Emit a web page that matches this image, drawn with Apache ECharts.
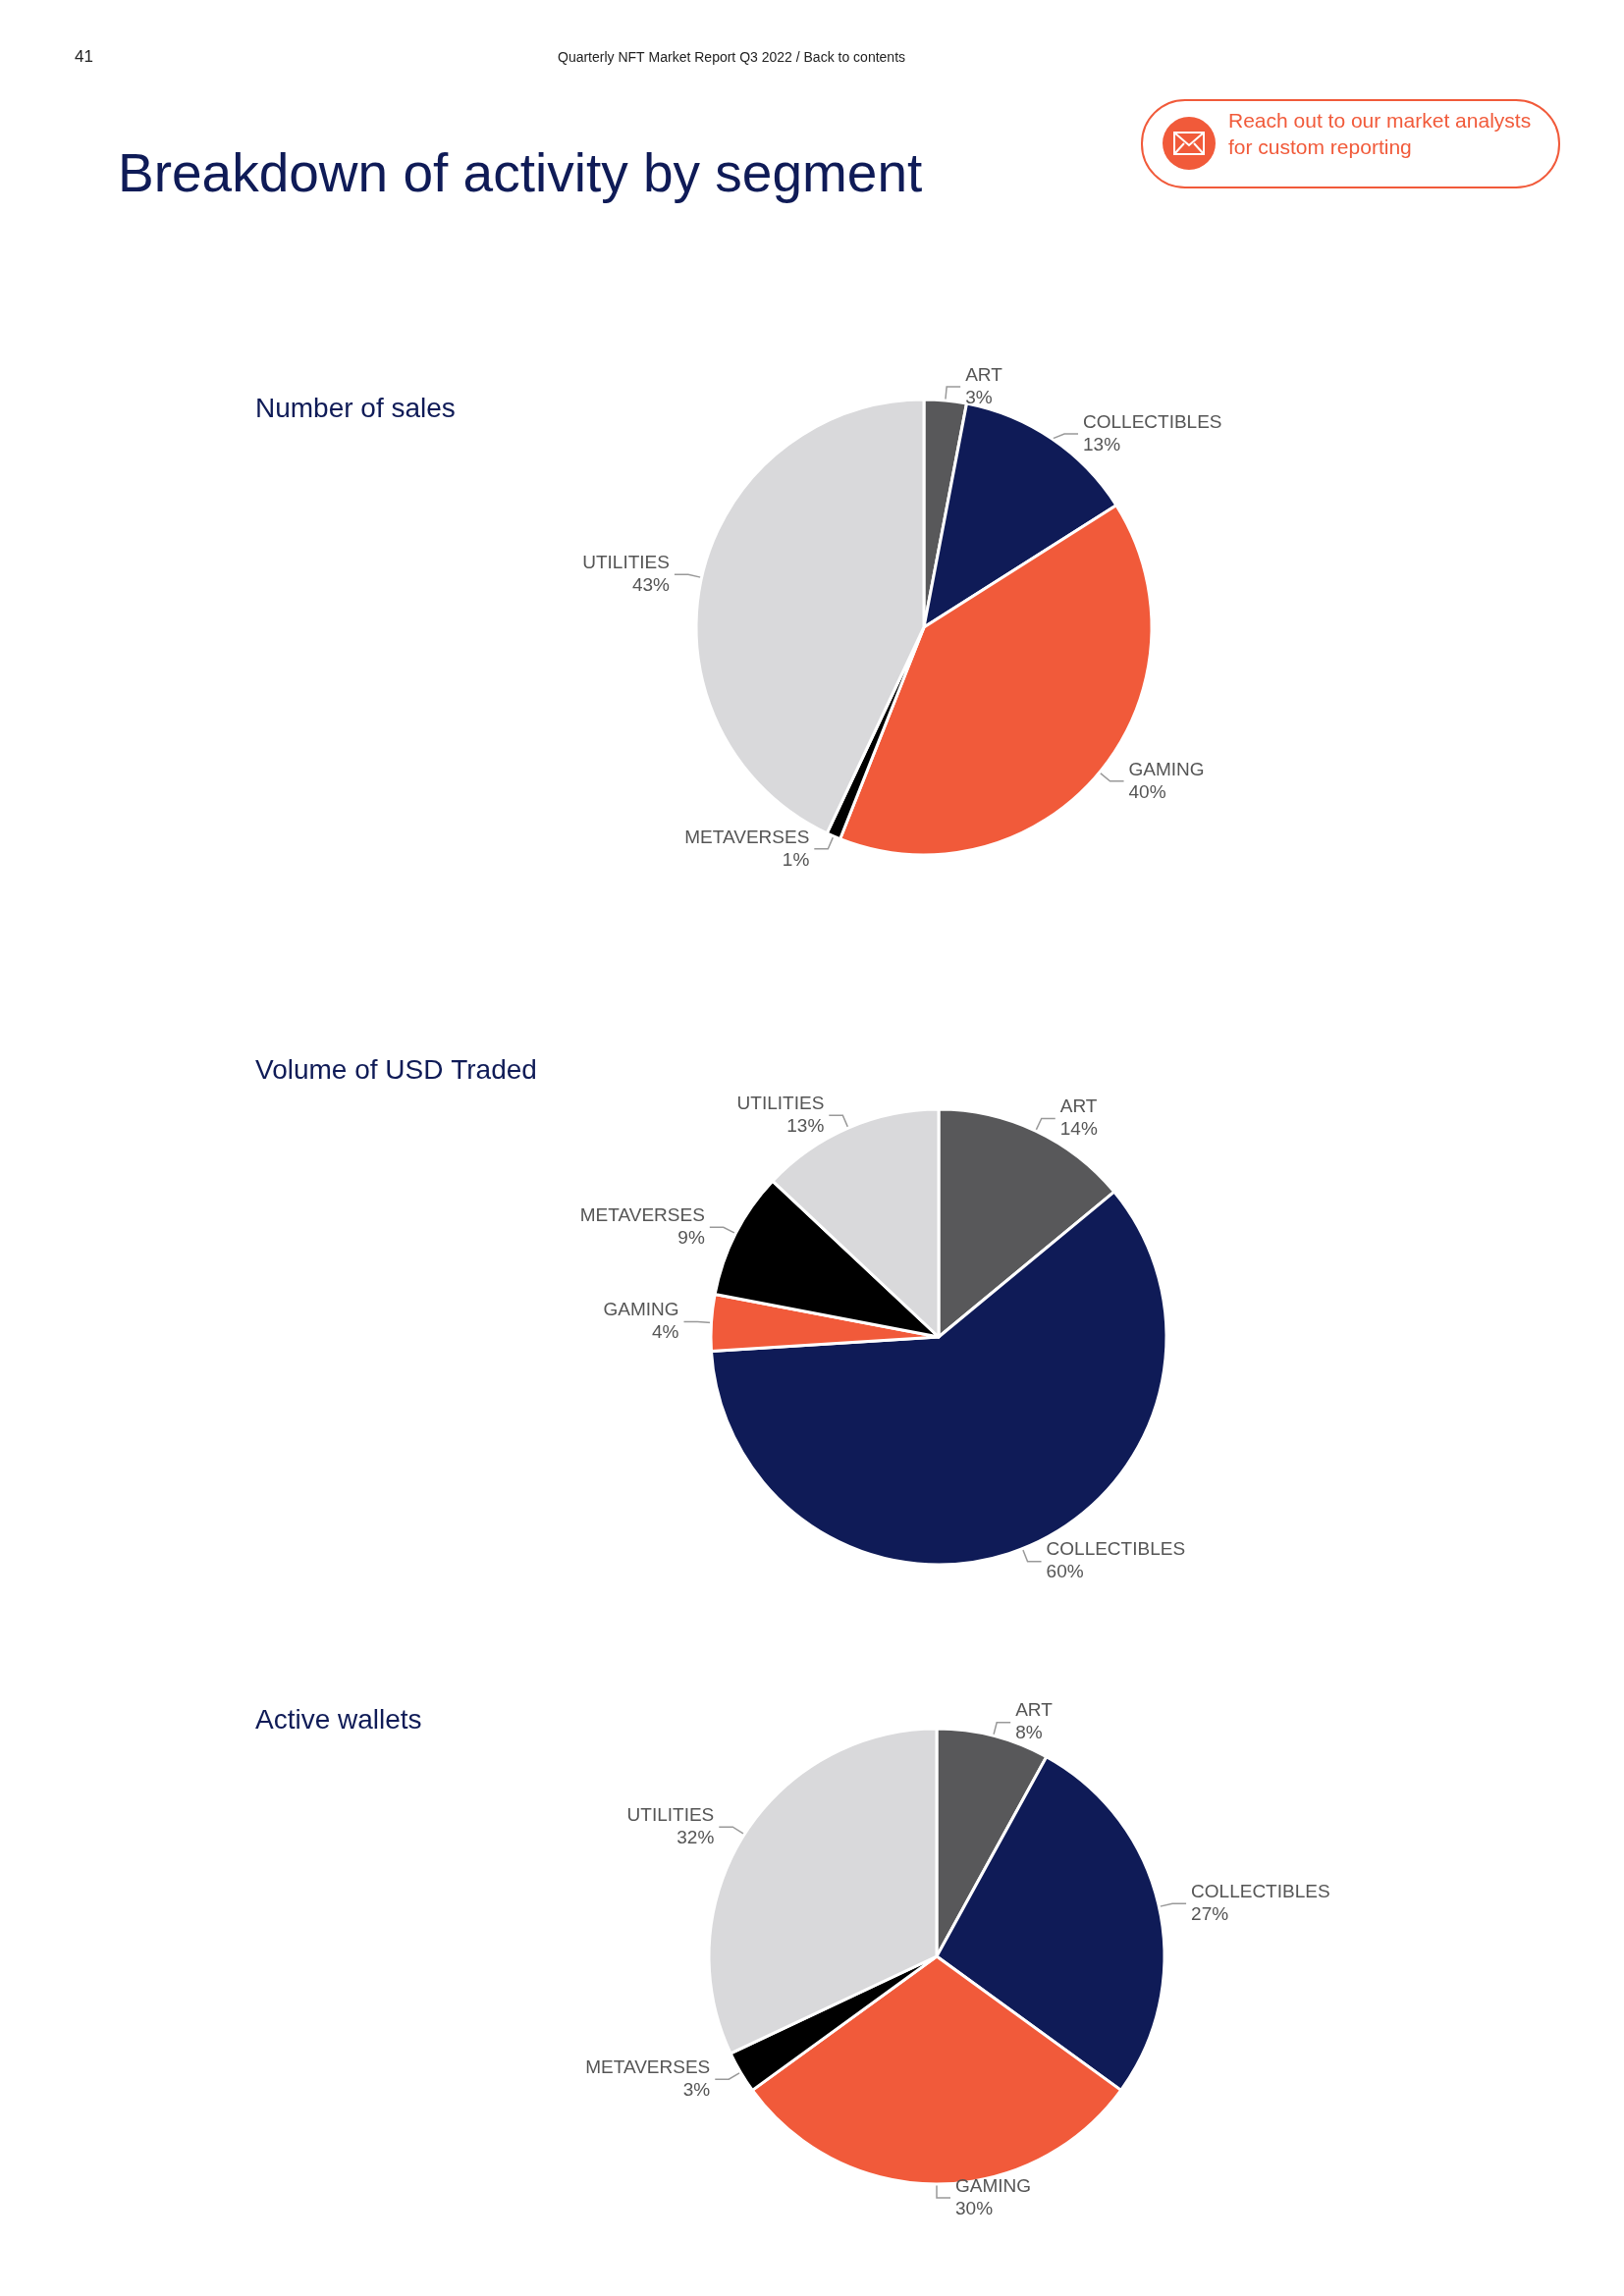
<!DOCTYPE html>
<html><head><meta charset="utf-8">
<script src="https://cdn.jsdelivr.net/npm/echarts@6/dist/echarts.min.js"></script>
<style>html,body{margin:0;padding:0;background:#fff}#c{width:1654px;height:2339px}</style>
</head><body><div id="c"></div>
<script>
const categories=['ART','COLLECTIBLES','GAMING','METAVERSES','UTILITIES'];
const salesValues=[3,13,40,1,43];
const volumeValues=[14,60,4,9,13];
const walletValues=[8,27,30,3,32];
const colors=['#58585a','#0f1b57','#f15a3a','#000000','#d9d9db'];
const chart=echarts.init(document.getElementById('c'));
const FONT='Liberation Sans, Arial, sans-serif';
function pie(vals,cx,cy){
  return {type:'pie',center:[cx,cy],radius:[0,232],startAngle:90,clockwise:true,
    itemStyle:{borderColor:'#fff',borderWidth:3},
    label:{show:true,formatter:p=>p.name+'\n'+p.value+'%',color:'#555',fontSize:19,fontFamily:FONT,lineHeight:23,align:'center'},
    labelLine:{show:true,length:14,length2:14,lineStyle:{color:'#999',width:1.5}},
    emphasis:{disabled:true},animation:false,
    data:categories.map((n,i)=>({name:n,value:vals[i],itemStyle:{color:colors[i]}}))};
}
const t=(x,y,s,o)=>({type:'text',left:x,top:y,style:Object.assign({text:s,fontFamily:FONT,fill:'#0f1b57'},o)});
chart.setOption({
  animation:false,
  graphic:[
    t(76,50,'41',{fontSize:17,fill:'#222'}),
    t(568,52,'Quarterly NFT Market Report Q3 2022 / Back to contents',{fontSize:14,fill:'#222'}),
    t(120,152,'Breakdown of activity by segment',{fontSize:55}),
    {type:'rect',shape:{x:1163,y:102,width:425,height:89,r:44},style:{fill:'#fff',stroke:'#f15a3a',lineWidth:2}},
    {type:'circle',shape:{cx:1211,cy:146,r:27},style:{fill:'#f15a3a'}},
    {type:'rect',shape:{x:1196,y:135,width:30,height:22},style:{fill:'none',stroke:'#fff',lineWidth:2}},
    {type:'polyline',shape:{points:[[1196,135],[1211,148],[1226,135]]},style:{stroke:'#fff',lineWidth:2,fill:'none'}},
    {type:'polyline',shape:{points:[[1196,157],[1206,146]]},style:{stroke:'#fff',lineWidth:2}},
    {type:'polyline',shape:{points:[[1226,157],[1216,146]]},style:{stroke:'#fff',lineWidth:2}},
    t(1251,114,'Reach out to our market analysts',{fontSize:21,fill:'#f15a3a'}),
    t(1251,141,'for custom reporting',{fontSize:21,fill:'#f15a3a'}),
    t(260,403,'Number of sales',{fontSize:28}),
    t(260,1077,'Volume of USD Traded',{fontSize:28}),
    t(260,1739,'Active wallets',{fontSize:28})
  ],
  series:[pie(salesValues,941,639),pie(volumeValues,956,1362),pie(walletValues,954,1993)]
});
</script></body></html>
